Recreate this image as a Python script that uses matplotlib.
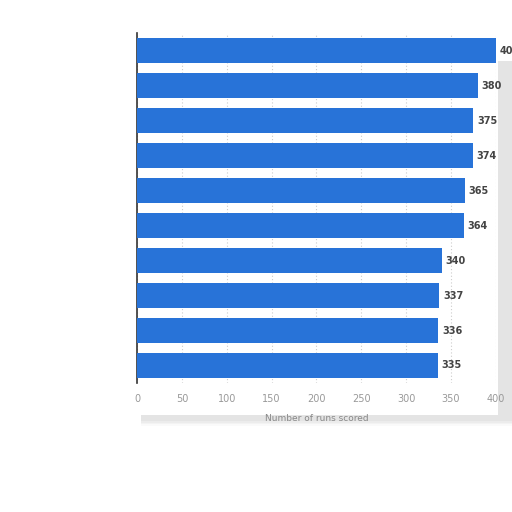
import matplotlib.pyplot as plt
from matplotlib.patches import Rectangle

# runs scored, top bar first
runs = [400, 380, 375, 374, 365, 364, 340, 337, 336, 335]
ranks = list(range(1, len(runs) + 1))
xticks = [0, 50, 100, 150, 200, 250, 300, 350, 400]

bar_color = '#2873d8'

fig = plt.figure(figsize=(5.12, 5.12), dpi=100)
fig.patch.set_facecolor('white')

# soft shadow under and right of the chart panel
for i, a in enumerate([0.04, 0.05, 0.06, 0.07]):
    pad = 0.012 - i * 0.003
    fig.patches.append(Rectangle((0.275, 0.18 - pad), 0.74, 0.70 + pad,
                                 transform=fig.transFigure, color='#808080', alpha=a,
                                 zorder=0, lw=0))
fig.patches.append(Rectangle((0.262, 0.19), 0.71, 0.76, transform=fig.transFigure,
                             color='white', zorder=0.5, lw=0))

ax = fig.add_axes([0.2676, 0.252, 0.701, 0.683])
ax.set_zorder(2)
ax.set_facecolor('white')

ax.barh(ranks, runs, height=0.72, color=bar_color, zorder=3)
ax.set_ylim(len(runs) + 0.5, 0.5)
ax.set_xlim(0, 400)

for r, v in zip(ranks, runs):
    ax.text(v + 4, r, str(v), va='center', ha='left', fontsize=7,
            fontweight='bold', color='#444444', zorder=4, clip_on=False)

ax.set_xticks(xticks)
ax.set_xticklabels([str(t) for t in xticks], fontsize=7, color='#999999')
ax.set_yticks([])
ax.tick_params(axis='x', length=0, pad=8)
ax.grid(axis='x', linestyle=(0, (1, 2)), color='#cccccc', lw=0.8, zorder=0)

for s in ['top', 'right', 'bottom']:
    ax.spines[s].set_visible(False)
ax.spines['left'].set_color('#333333')
ax.spines['left'].set_linewidth(1.2)

ax.set_xlabel('Number of runs scored', fontsize=6.5, color='#888888', labelpad=7)

fig.savefig('out.png', dpi=100)
